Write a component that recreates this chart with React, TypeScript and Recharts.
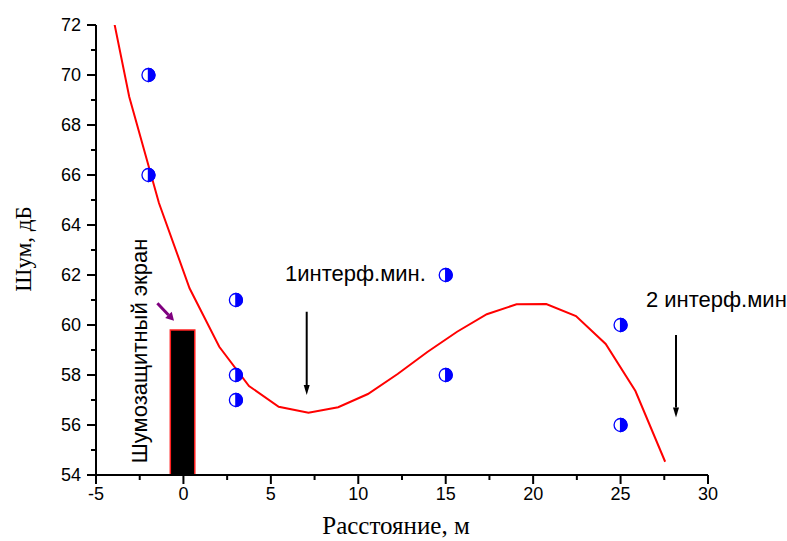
import React from "react";
import {
  ComposedChart,
  Line,
  Scatter,
  XAxis,
  YAxis,
  ReferenceArea,
  ReferenceLine,
  ReferenceDot,
} from "recharts";

// ─── Data ───
const curveX = [-4.8, -3.1, -1.4, 0.35, 2.05, 3.75, 5.45, 7.15, 8.85, 10.55, 12.25, 13.95, 15.65, 17.35, 19.05, 20.75, 22.45, 24.15, 25.85, 27.55];
const curveY = [75.0, 69.13, 64.88, 61.47, 59.13, 57.56, 56.73, 56.49, 56.71, 57.24, 58.04, 58.92, 59.73, 60.43, 60.83, 60.84, 60.36, 59.24, 57.36, 54.53];

const measuredX = [-2, -2, 3, 3, 3, 15, 15, 25, 25];
const measuredY = [70, 66, 61, 58, 57, 62, 58, 60, 56];

const xTicks = [-5, -2.5, 0, 2.5, 5, 7.5, 10, 12.5, 15, 17.5, 20, 22.5, 25, 27.5, 30];
const yTicks = [54, 55, 56, 57, 58, 59, 60, 61, 62, 63, 64, 65, 66, 67, 68, 69, 70, 71, 72];

const curve = curveX.map((x, i) => ({ x, y: curveY[i] }));
const measured = measuredX.map((x, i) => ({ x, y: measuredY[i] }));

const SANS = "'Liberation Sans', Arial, sans-serif";
const SERIF = "'Liberation Serif', 'Times New Roman', serif";

// ─── Axis ticks with minor marks ───
function XTick({ x, y, payload }: any) {
  const v = payload.value;
  const major = Math.abs(v % 5) < 1e-9;
  return (
    <g>
      <line x1={x} y1={y} x2={x} y2={y + (major ? 9 : 5)} stroke="#000" strokeWidth={2} />
      {major && (
        <text x={x} y={y + 25} textAnchor="middle" fontSize={18} fontFamily={SANS} fill="#000">
          {v}
        </text>
      )}
    </g>
  );
}

function YTick({ x, y, payload }: any) {
  const v = payload.value;
  const major = v % 2 === 0;
  return (
    <g>
      <line x1={x - (major ? 9 : 5)} y1={y} x2={x} y2={y} stroke="#000" strokeWidth={2} />
      {major && (
        <text x={x - 15} y={y + 6} textAnchor="end" fontSize={18} fontFamily={SANS} fill="#000">
          {v}
        </text>
      )}
    </g>
  );
}

// ─── Half-filled marker ───
function HalfDot({ cx, cy }: any) {
  const r = 6.5;
  return (
    <g>
      <circle cx={cx} cy={cy} r={r} fill="#fff" stroke="#0000ff" strokeWidth={1.3} />
      <path d={`M ${cx} ${cy - r} A ${r} ${r} 0 0 1 ${cx} ${cy + r} Z`} fill="#0000ff" stroke="#0000ff" strokeWidth={1.3} />
    </g>
  );
}

// ─── Arrow drawn on a reference segment ───
const arrow = (color: string, width: number, head: number, headW: number) => (props: any) => {
  const { x1, y1, x2, y2 } = props;
  const dx = x2 - x1;
  const dy = y2 - y1;
  const len = Math.hypot(dx, dy) || 1;
  const ux = dx / len;
  const uy = dy / len;
  const bx = x2 - ux * head;
  const by = y2 - uy * head;
  const px = (-uy * headW) / 2;
  const py = (ux * headW) / 2;
  return (
    <g>
      <line x1={x1} y1={y1} x2={bx} y2={by} stroke={color} strokeWidth={width} />
      <polygon points={`${x2},${y2} ${bx + px},${by + py} ${bx - px},${by - py}`} fill={color} />
    </g>
  );
};

const textAt = (text: string, anchor: "start" | "middle" = "start", rotate = false) => (props: any) => {
  const { cx, cy } = props;
  return (
    <text
      x={cx}
      y={cy}
      textAnchor={anchor}
      dominantBaseline={rotate ? "central" : "auto"}
      fontSize={22}
      fontFamily={SANS}
      fill="#000"
      transform={rotate ? `rotate(-90 ${cx} ${cy})` : undefined}
    >
      {text}
    </text>
  );
};

function YTitle({ viewBox }: any) {
  const cx = viewBox.x + 23;
  const cy = viewBox.y + viewBox.height / 2 - 1;
  return (
    <text x={cx} y={cy} textAnchor="middle" dominantBaseline="central" fontSize={23} fontFamily={SERIF} fill="#000" transform={`rotate(-90 ${cx} ${cy})`}>
      Шум, дБ
    </text>
  );
}

function XTitle({ viewBox }: any) {
  const cx = viewBox.x + viewBox.width / 2 - 6;
  const cy = viewBox.y + viewBox.height - 7;
  return (
    <text x={cx} y={cy} textAnchor="middle" fontSize={25} fontFamily={SERIF} fill="#000">
      Расстояние, м
    </text>
  );
}

export default function App() {
  return (
    <div style={{ position: "absolute", left: 0, top: 0, background: "#fff" }}>
      <ComposedChart width={787} height={541} margin={{ top: 25, right: 79, bottom: 0, left: 0 }}>
        <XAxis
          dataKey="x"
          type="number"
          domain={[-5, 30]}
          ticks={xTicks}
          interval={0}
          tickSize={0}
          tickMargin={0}
          tickLine={false}
          tick={<XTick />}
          height={66}
          axisLine={{ stroke: "#000", strokeWidth: 2 }}
          label={{ content: <XTitle /> }}
        />
        <YAxis
          type="number"
          domain={[54, 72]}
          allowDataOverflow
          ticks={yTicks}
          interval={0}
          tickSize={0}
          tickMargin={0}
          tickLine={false}
          tick={<YTick />}
          width={96}
          axisLine={{ stroke: "#000", strokeWidth: 2 }}
          label={{ content: <YTitle /> }}
        />

        {/* noise screen */}
        <ReferenceArea x1={-0.75} x2={0.65} y1={54} y2={59.8} fill="#000" fillOpacity={1} stroke="#ff2020" strokeWidth={1.5} />

        <Line data={curve} dataKey="y" type="linear" stroke="#ff0000" strokeWidth={2} dot={false} isAnimationActive={false} />
        <Scatter data={measured} dataKey="y" shape={<HalfDot />} isAnimationActive={false} />

        {/* annotations */}
        <ReferenceLine segment={[{ x: -1.49, y: 60.87 }, { x: -0.54, y: 60.17 }]} shape={arrow("#7f007f", 3, 8, 9)} />
        <ReferenceLine segment={[{ x: 7.05, y: 60.53 }, { x: 7.05, y: 57.2 }]} shape={arrow("#000", 2, 10, 6)} />
        <ReferenceLine segment={[{ x: 28.17, y: 59.6 }, { x: 28.17, y: 56.3 }]} shape={arrow("#000", 2, 10, 6)} />

        <ReferenceDot x={5.81} y={61.76} r={0} shape={textAt("1интерф.мин.")} />
        <ReferenceDot x={26.45} y={60.72} r={0} shape={textAt("2 интерф.мин")} />
        <ReferenceDot x={-2.54} y={58.96} r={0} shape={textAt("Шумозащитный экран", "middle", true)} />
      </ComposedChart>
    </div>
  );
}
